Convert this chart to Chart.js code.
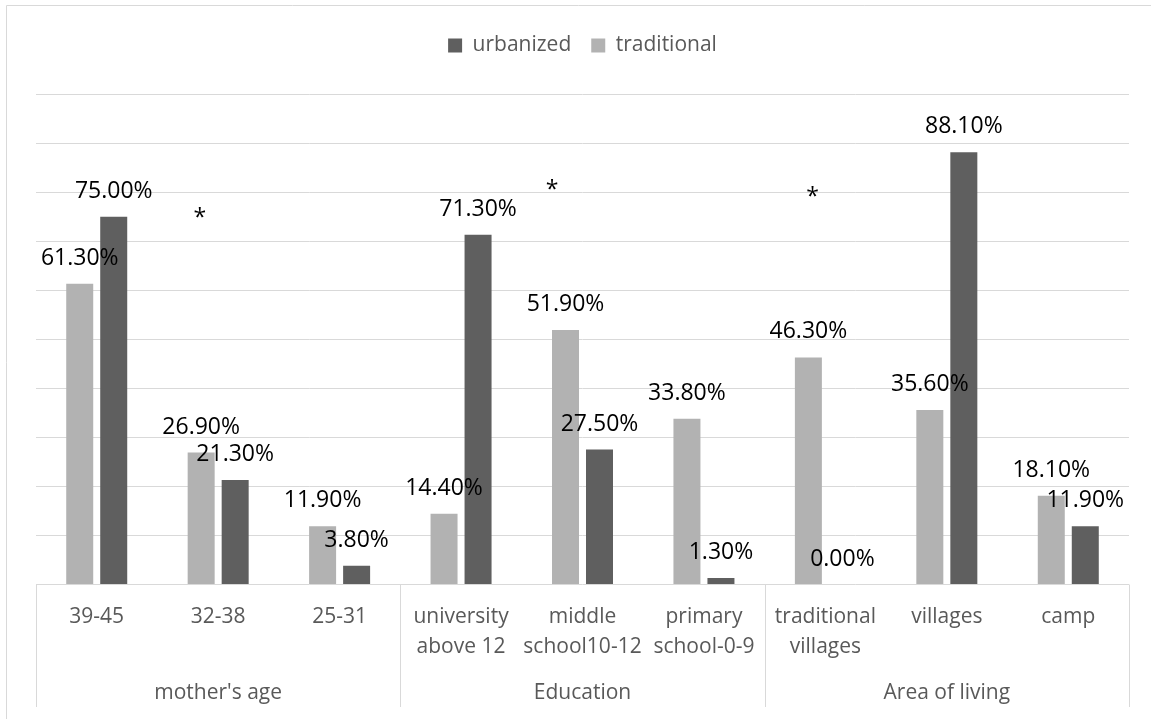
<!DOCTYPE html>
<html>
<head>
<meta charset="utf-8">
<script src="https://cdn.jsdelivr.net/npm/chart.js@4"></script>
<style>
html,body{margin:0;padding:0;background:#fff}
#wrap{width:1151px;height:719px;position:relative}
</style>
</head>
<body>
<div id="wrap"><canvas id="c"></canvas></div>
<script>
// categories (multi-line), groups and the two series
const categories=[["39-45"],["32-38"],["25-31"],["university","above 12"],["middle","school10-12"],["primary","school-0-9"],["traditional","villages"],["villages"],["camp"]];
const groups=["mother's age","Education","Area of living"];
const groupSize=[3,3,3];
const traditional=[61.3,26.9,11.9,14.4,51.9,33.8,46.3,35.6,18.1];
const urbanized=[75.0,21.3,3.8,71.3,27.5,1.3,0.0,88.1,11.9];
// significance marks: category index, height (%), shift inside category
const stars=[{cat:1,value:75.9,shift:-0.15},{cat:4,value:81.6,shift:-0.25},{cat:6,value:80.2,shift:-0.105}];

const FONT="'Open Sans', sans-serif";
const GRID="#d9d9d9";

// legend a bit taller so the plot starts lower
const legendPad={id:'legendPad',beforeInit(chart){
  const orig=chart.legend.fit;
  chart.legend.fit=function(){ orig.call(this); this.height+=28; };
}};

// values above bars
const barLabels={id:'barLabels',afterDatasetsDraw(chart){
  const ctx=chart.ctx;
  ctx.save();
  ctx.font="23px "+FONT; ctx.fillStyle="#000"; ctx.textAlign="center"; ctx.textBaseline="alphabetic";
  chart.data.datasets.forEach((ds,di)=>{
    chart.getDatasetMeta(di).data.forEach((bar,i)=>{
      ctx.fillText(ds.data[i].toFixed(2)+"%",bar.x,bar.y-19);
    });
  });
  const x=chart.scales.x, y=chart.scales.y;
  const w=(chart.chartArea.right-chart.chartArea.left)/categories.length;
  stars.forEach(s=>{
    ctx.fillText("*",x.getPixelForValue(s.cat)+s.shift*w,y.getPixelForValue(s.value)+13);
  });
  ctx.restore();
}};

// two level category axis + chart border
const axisBox={id:'axisBox',afterDraw(chart){
  const {ctx,chartArea:a}=chart, x=chart.scales.x;
  const w=(a.right-a.left)/categories.length;
  const bottom=707;
  ctx.save();
  ctx.strokeStyle=GRID; ctx.lineWidth=1;
  ctx.beginPath(); ctx.moveTo(6.5,719); ctx.lineTo(6.5,5.5); ctx.lineTo(1151,5.5); ctx.stroke();
  let start=0;
  const edges=[0];
  groupSize.forEach(n=>{ start+=n; edges.push(start); });
  edges.forEach(k=>{
    const px=Math.round(a.left+k*w)+0.5;
    ctx.beginPath(); ctx.moveTo(px,a.bottom); ctx.lineTo(px,bottom); ctx.stroke();
  });
  ctx.font="21px "+FONT; ctx.fillStyle="#595959"; ctx.textAlign="center"; ctx.textBaseline="alphabetic";
  categories.forEach((lines,i)=>{
    const cx=x.getPixelForValue(i);
    lines.forEach((t,j)=>ctx.fillText(t,cx,a.bottom+38.5+j*29.5));
  });
  groups.forEach((g,k)=>{
    const cx=a.left+(edges[k]+edges[k+1])/2*w;
    ctx.fillText(g,cx,a.bottom+114.5);
  });
  ctx.restore();
}};

new Chart(document.getElementById("c"),{
  type:"bar",
  data:{
    labels:categories.map(c=>c.join(" ")),
    datasets:[
      {label:"traditional",data:traditional,backgroundColor:"#b2b2b2",borderWidth:0,
       categoryPercentage:0.56,barPercentage:0.794},
      {label:"urbanized",data:urbanized,backgroundColor:"#5f5f5f",borderWidth:0,
       categoryPercentage:0.56,barPercentage:0.794}
    ]
  },
  options:{
    responsive:true,maintainAspectRatio:false,animation:false,
    layout:{padding:{left:36,right:22,top:15,bottom:134.5}},
    plugins:{
      legend:{position:"top",reverse:true,
        labels:{boxWidth:14,boxHeight:14,padding:20,color:"#595959",font:{family:FONT,size:21}}},
      tooltip:{enabled:false}
    },
    scales:{
      x:{display:false},
      y:{min:0,max:100,
        ticks:{display:false,stepSize:10},
        grid:{color:GRID,lineWidth:1,drawTicks:false},
        border:{display:false},
        afterFit:s=>{s.width=0;}}
    }
  },
  plugins:[legendPad,barLabels,axisBox]
});
</script>
</body>
</html>
